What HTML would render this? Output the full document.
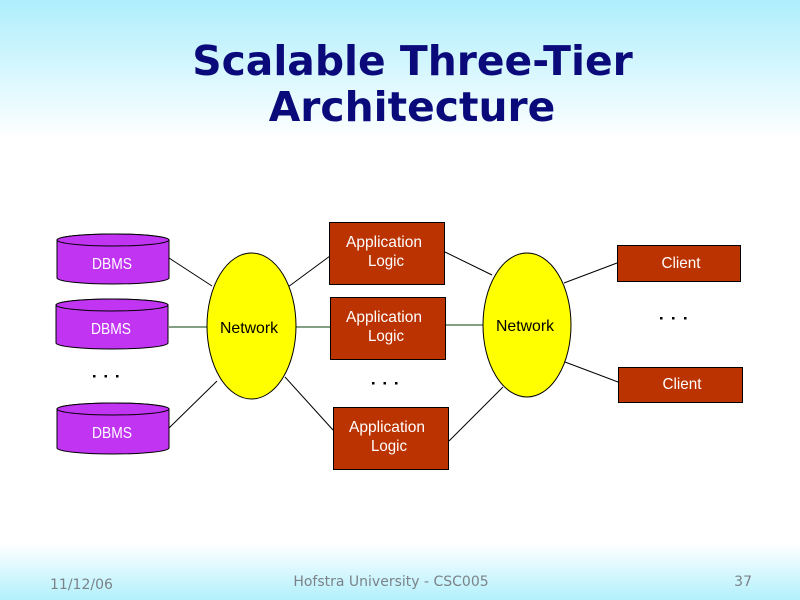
<!DOCTYPE html>
<html><head><meta charset="utf-8"><style>
html,body{margin:0;padding:0;width:800px;height:600px;overflow:hidden;background:#fff}
svg{display:block}
</style></head><body>
<svg width="800" height="600" viewBox="0 0 800 600" xmlns="http://www.w3.org/2000/svg">
<defs>
<linearGradient id="gt" x1="0" y1="0" x2="0" y2="1">
<stop offset="0" stop-color="#aeeefc"/><stop offset="1" stop-color="#ffffff"/>
</linearGradient>
<linearGradient id="gb" x1="0" y1="0" x2="0" y2="1">
<stop offset="0" stop-color="#ffffff"/><stop offset="1" stop-color="#b2f0fc"/>
</linearGradient>
</defs>
<rect x="0" y="0" width="800" height="600" fill="#fff"/>
<rect x="0" y="0" width="800" height="140" fill="url(#gt)"/>
<rect x="0" y="543" width="800" height="57" fill="url(#gb)"/>

<g font-family="'DejaVu Sans', sans-serif" font-weight="bold" font-size="40.8" fill="#0a0a7a" text-anchor="middle">
<text x="412.5" y="75">Scalable Three-Tier</text>
<text x="412" y="121">Architecture</text>
</g>

<!-- connectors -->
<g stroke="#000" stroke-width="1" fill="none">
<line x1="169" y1="258" x2="212" y2="286"/>
<line x1="169" y1="428" x2="217" y2="381"/>
<line x1="288" y1="287" x2="330" y2="256"/>
<line x1="285" y1="377" x2="333" y2="430"/>
<line x1="445" y1="252" x2="492" y2="275"/>
<line x1="449" y1="441" x2="503" y2="387"/>
<line x1="564" y1="283" x2="617" y2="263"/>
<line x1="565" y1="362" x2="618" y2="382"/>
</g>
<g stroke="#0a400a" stroke-width="1" fill="none">
<line x1="169" y1="327" x2="207" y2="327"/>
<line x1="296" y1="327" x2="330" y2="327"/>
<line x1="446" y1="325" x2="483" y2="325"/>
</g>

<!-- DBMS cylinders -->
<g fill="#c034f2" stroke="#000" stroke-width="1">
<path d="M57,240 v38 a56,6 0 0 0 112,0 v-38 a56,6 0 0 0 -112,0 z"/>
<ellipse cx="113" cy="240" rx="56" ry="6"/>
<path d="M56,305 v38 a56,6 0 0 0 112,0 v-38 a56,6 0 0 0 -112,0 z"/>
<ellipse cx="112" cy="305" rx="56" ry="6"/>
<path d="M57,409 v39 a56,6 0 0 0 112,0 v-39 a56,6 0 0 0 -112,0 z"/>
<ellipse cx="113" cy="409" rx="56" ry="6"/>
</g>

<!-- networks -->
<g fill="#ffff00" stroke="#000" stroke-width="1">
<ellipse cx="251.5" cy="326" rx="44.5" ry="73"/>
<ellipse cx="527" cy="325" rx="44" ry="72"/>
</g>

<!-- app logic boxes -->
<g fill="#bb3300" stroke="#000" stroke-width="1">
<rect x="329.5" y="222.5" width="115" height="62"/>
<rect x="330.5" y="297.5" width="115" height="62"/>
<rect x="333.5" y="407.5" width="115" height="62"/>
<rect x="617.5" y="245.5" width="123" height="36"/>
<rect x="618.5" y="367.5" width="124" height="35"/>
</g>

<!-- labels -->
<g font-family="'Liberation Sans', sans-serif" font-size="16" fill="#fff" text-anchor="middle">
<text x="112" y="269" textLength="40" lengthAdjust="spacingAndGlyphs">DBMS</text>
<text x="111" y="334" textLength="40" lengthAdjust="spacingAndGlyphs">DBMS</text>
<text x="112" y="438" textLength="40" lengthAdjust="spacingAndGlyphs">DBMS</text>
<text x="384" y="247" textLength="76" lengthAdjust="spacingAndGlyphs">Application</text>
<text x="386" y="266" textLength="36" lengthAdjust="spacingAndGlyphs">Logic</text>
<text x="384" y="322" textLength="76" lengthAdjust="spacingAndGlyphs">Application</text>
<text x="386" y="341" textLength="36" lengthAdjust="spacingAndGlyphs">Logic</text>
<text x="387" y="432" textLength="76" lengthAdjust="spacingAndGlyphs">Application</text>
<text x="389" y="451" textLength="36" lengthAdjust="spacingAndGlyphs">Logic</text>
<text x="681" y="268" textLength="39" lengthAdjust="spacingAndGlyphs">Client</text>
<text x="682" y="389" textLength="39" lengthAdjust="spacingAndGlyphs">Client</text>
</g>
<g font-family="'Liberation Sans', sans-serif" font-size="16" fill="#000" text-anchor="middle">
<text x="249" y="333" textLength="58" lengthAdjust="spacingAndGlyphs">Network</text>
<text x="525" y="331" textLength="58" lengthAdjust="spacingAndGlyphs">Network</text>
</g>

<!-- ellipsis dots -->
<g fill="#000">
<rect x="93" y="375" width="2.5" height="2.5"/>
<rect x="104.5" y="375" width="2.5" height="2.5"/>
<rect x="116" y="375" width="2.5" height="2.5"/>
<rect x="372" y="382" width="2.5" height="2.5"/>
<rect x="383.5" y="382" width="2.5" height="2.5"/>
<rect x="395" y="382" width="2.5" height="2.5"/>
<rect x="660" y="317" width="2.5" height="2.5"/>
<rect x="672" y="317" width="2.5" height="2.5"/>
<rect x="684" y="317" width="2.5" height="2.5"/>
</g>

<!-- footer -->
<g font-family="'DejaVu Sans', sans-serif" font-size="14" fill="#7c8288">
<text x="50" y="589">11/12/06</text>
<text x="391" y="586" text-anchor="middle">Hofstra University - CSC005</text>
<text x="752" y="586" text-anchor="end">37</text>
</g>
</svg>
</body></html>
